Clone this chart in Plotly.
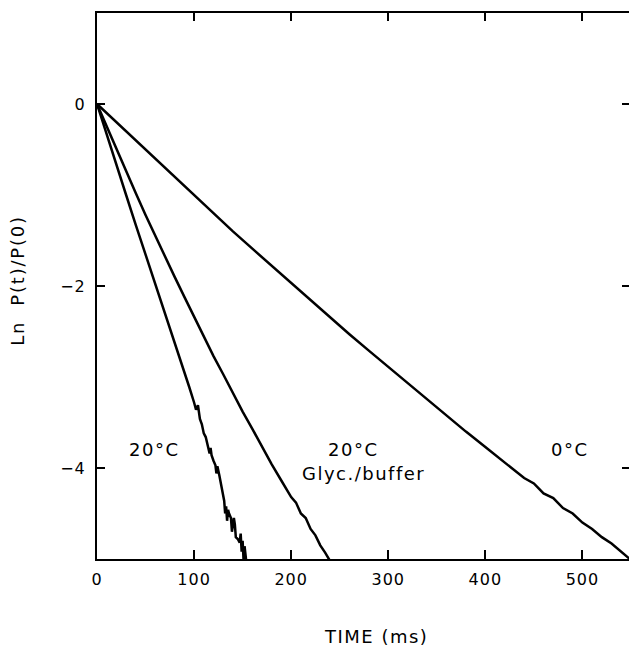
import plotly.graph_objects as go

# Decay of ln P(t)/P(0) versus time for three conditions
t_0c = [0, 20, 40, 60, 80, 100, 120, 140, 160, 180, 200, 220, 240, 260, 280,
        300, 320, 340, 360, 380, 400, 420, 440, 450, 460, 470, 480, 490, 500,
        510, 520, 530, 540, 550]
y_0c = [0, -0.20, -0.41, -0.61, -0.81, -1.01, -1.20, -1.40, -1.59, -1.78,
        -1.97, -2.16, -2.35, -2.53, -2.71, -2.89, -3.07, -3.25, -3.42, -3.60,
        -3.77, -3.94, -4.11, -4.17, -4.28, -4.33, -4.44, -4.50, -4.60, -4.67,
        -4.76, -4.83, -4.92, -5.01]

t_glyc = [0, 10, 20, 30, 40, 50, 60, 70, 80, 90, 100, 110, 120, 130, 140,
          150, 160, 170, 180, 190, 200, 205, 210, 215, 220, 225, 230, 235, 240]
y_glyc = [0, -0.25, -0.50, -0.74, -0.98, -1.22, -1.45, -1.68, -1.90, -2.12,
          -2.34, -2.56, -2.77, -2.97, -3.18, -3.38, -3.57, -3.77, -3.96, -4.14,
          -4.32, -4.38, -4.50, -4.55, -4.67, -4.74, -4.85, -4.93, -5.02]

t_20c = [0, 10, 20, 30, 40, 50, 60, 70, 80, 90, 95, 100, 102, 104, 106, 108,
         110, 112, 114, 116, 117, 118, 120, 122, 123, 124, 126, 128, 130, 131,
         132, 133, 134, 135, 136, 138, 139, 140, 141, 142, 143, 145, 147, 148,
         149, 150, 151, 152, 153, 154]
y_20c = [0, -0.34, -0.67, -1.00, -1.33, -1.65, -1.97, -2.29, -2.62, -2.95,
         -3.11, -3.28, -3.36, -3.31, -3.46, -3.52, -3.62, -3.66, -3.74, -3.84,
         -3.78, -3.86, -3.92, -3.97, -4.06, -3.98, -4.08, -4.18, -4.27, -4.36,
         -4.50, -4.42, -4.58, -4.46, -4.50, -4.55, -4.70, -4.60, -4.55, -4.62,
         -4.76, -4.78, -4.82, -4.72, -4.92, -4.80, -5.02, -4.86, -4.98, -5.05]

curve_labels = ["20°C", "20°C", "Glyc./buffer", "0°C"]
label_x = [59, 264, 274, 487]
label_y = [-3.80, -3.80, -4.06, -3.80]

x_ticks = [0, 100, 200, 300, 400, 500]
x_tick_text = ["0", "100", "200", "300", "400", "500"]
y_ticks = [0, -2, -4]
y_tick_text = ["0", "\u22122", "\u22124"]

FONT = "DejaVu Sans"
LINE = dict(color="black", width=2.5)


def spaced(s, px):
    return '<span style="letter-spacing:%spx">%s</span>' % (px, s)


fig = go.Figure()
for tx, ty in [(t_0c, y_0c), (t_glyc, y_glyc), (t_20c, y_20c)]:
    fig.add_trace(go.Scatter(x=tx, y=ty, mode="lines", line=LINE,
                             showlegend=False, hoverinfo="skip"))

# invisible trace hooked to the mirrored axes so they render
fig.add_trace(go.Scatter(x=[0], y=[0], xaxis="x2", yaxis="y2", mode="markers",
                         marker=dict(opacity=0), showlegend=False,
                         hoverinfo="skip"))

for txt, lx, ly in zip(curve_labels, label_x, label_y):
    fig.add_annotation(x=lx, y=ly, text=spaced(txt, 1.5), showarrow=False,
                       font=dict(family=FONT, size=18, color="black"))

fig.add_annotation(xref="paper", yref="paper", x=0.525, y=-0.142,
                   text=spaced("TIME (ms)", 1.5), showarrow=False,
                   yanchor="middle",
                   font=dict(family=FONT, size=18, color="black"))
fig.add_annotation(xref="paper", yref="paper", x=-0.15, y=0.51,
                   text=spaced("Ln  P(t)/P(0)", 1.8), showarrow=False,
                   textangle=-90, xanchor="center",
                   font=dict(family=FONT, size=18, color="black"))

fig.update_layout(
    width=629, height=647,
    margin=dict(l=97, r=0, t=13, b=88),
    paper_bgcolor="white", plot_bgcolor="white",
    font=dict(family=FONT, size=16, color="black"),
    xaxis=dict(range=[0, 548], tickvals=x_ticks,
               ticktext=[spaced(s, 1) for s in x_tick_text],
               ticks="inside", ticklen=9,
               tickwidth=1.5, tickcolor="black", showline=True, linewidth=2,
               linecolor="black", showgrid=False, zeroline=False,
               ticklabelstandoff=5,
               tickfont=dict(family=FONT, size=16)),
    yaxis=dict(range=[-5, 1], tickvals=y_ticks,
               ticktext=[spaced(s, 1) for s in y_tick_text],
               ticks="inside", ticklen=8,
               tickwidth=1.5, tickcolor="black", showline=True, linewidth=2,
               linecolor="black", showgrid=False, zeroline=False,
               ticklabelstandoff=6,
               tickfont=dict(family=FONT, size=16)),
    xaxis2=dict(range=[0, 548], overlaying="x", side="top", tickvals=x_ticks,
                ticks="inside", ticklen=8, tickwidth=1.5, tickcolor="black",
                showline=True, linewidth=2, linecolor="black",
                showticklabels=False, showgrid=False, zeroline=False),
    yaxis2=dict(range=[-5, 1], overlaying="y", side="right", tickvals=y_ticks,
                ticks="inside", ticklen=7, tickwidth=1.5, tickcolor="black",
                showline=False, showticklabels=False, showgrid=False,
                zeroline=False),
)

fig.write_html("out.html")
